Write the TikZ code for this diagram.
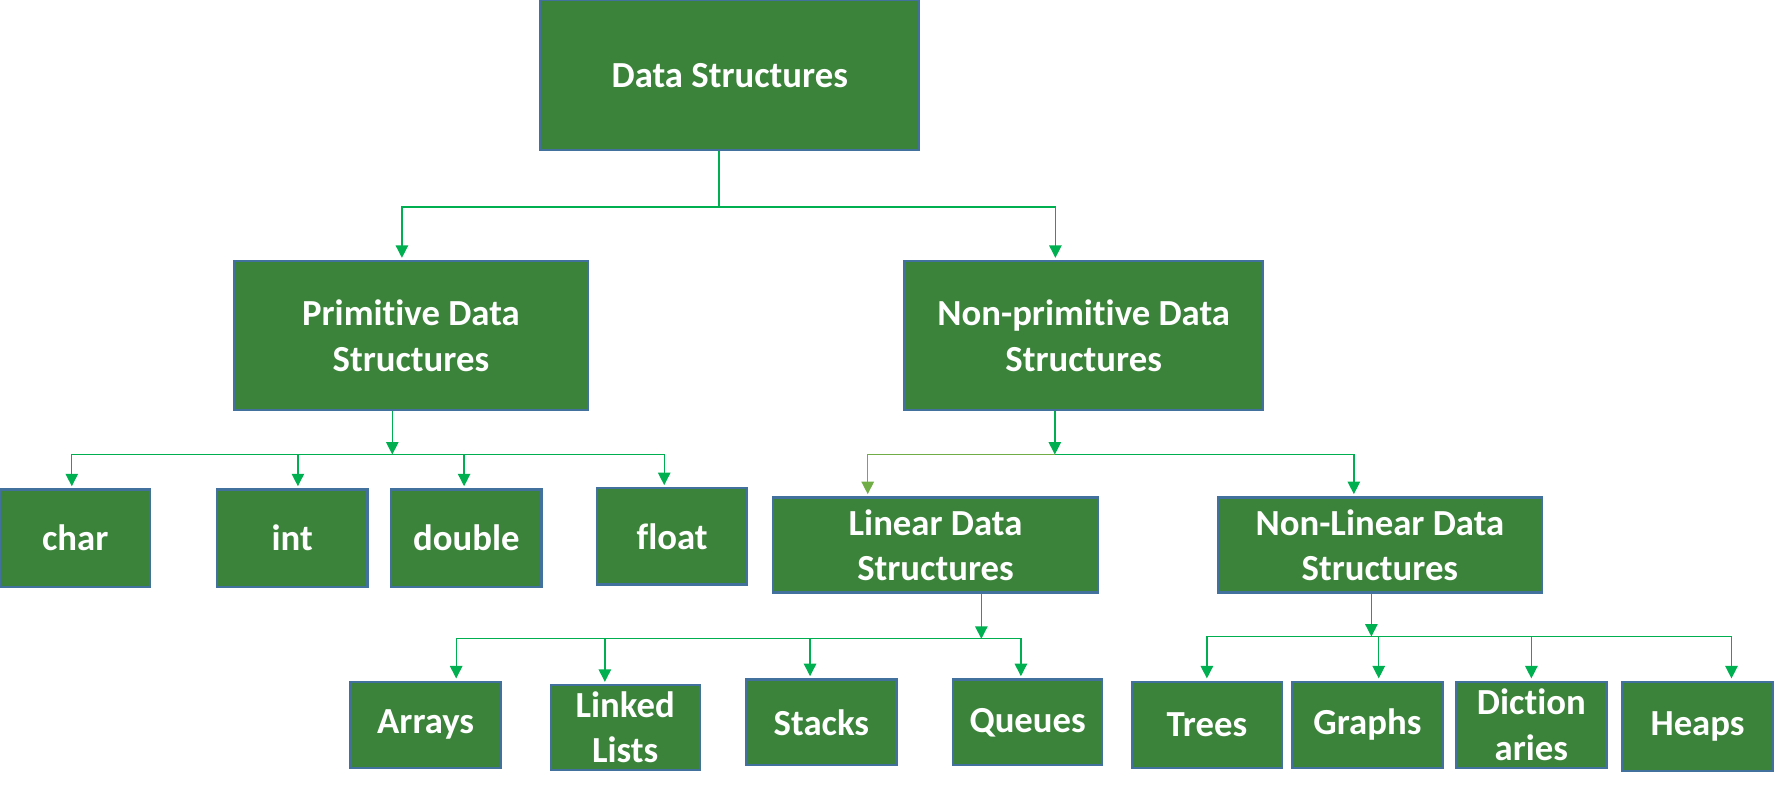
\documentclass[tikz,border=0pt]{standalone}
\usepackage{fontspec}
\setmainfont[Ligatures=NoCommon]{Carlito}
\usetikzlibrary{arrows.meta}
\definecolor{boxgreen}{HTML}{3B833A}
\definecolor{boxedge}{HTML}{41719C}
\definecolor{linkgreen}{HTML}{00B050}
\definecolor{linkolive}{HTML}{70AD47}

\begin{document}
\begin{tikzpicture}
[x=1pt,y=-1pt,
ds/.style={rectangle,draw=boxedge,fill=boxgreen,text=white,line width=1.9pt,inner sep=0pt,
  align=center,font=\fontsize{32.5}{40}\selectfont\bfseries},
bus/.style={draw=linkgreen,line width=1.2pt},
link/.style={bus,shorten >=2pt,-{Triangle[width=11pt,length=11pt]}}]
\useasboundingbox (0,0) rectangle (1570,704);
% top
\node[ds,minimum width=335,minimum height=133] (ds) at (645.5,66.5) {Data Structures};
% second level
\node[ds,minimum width=313,minimum height=132] (prim) at (363.5,297) {Primitive Data\\Structures};
\node[ds,minimum width=317,minimum height=132] (np) at (958.5,297) {Non-primitive Data\\Structures};
% primitive types
\node[ds,minimum width=133,minimum height=86] (char) at (66.5,476) {char};
\node[ds,minimum width=133,minimum height=86] (int) at (258.5,476) {int};
\node[ds,minimum width=133,minimum height=86] (double) at (412.5,476) {double};
\node[ds,minimum width=133,minimum height=85] (float) at (594.5,474.5) {float};
% linear / non-linear
\node[ds,minimum width=287,minimum height=84] (lin) at (827.5,482) {Linear Data\\Structures};
\node[ds,minimum width=287,minimum height=84] (nonlin) at (1220.5,482) {Non-Linear Data\\Structures};
% leaves
\node[ds,minimum width=133,minimum height=76] (arrays) at (376.5,641) {Arrays};
\node[ds,minimum width=132,minimum height=75] (linked) at (553,643.5) {Linked\\Lists};
\node[ds,minimum width=133,minimum height=76] (stacks) at (726.5,639) {Stacks};
\node[ds,minimum width=132,minimum height=76] (queues) at (909,639) {Queues};
\node[ds,minimum width=133,minimum height=76] (trees) at (1067.5,641) {Trees};
\node[ds,minimum width=133,minimum height=76] (graphs) at (1209.5,641) {Graphs};
\node[ds,minimum width=133,minimum height=76] (dict) at (1354.5,641) {Diction\\aries};
\node[ds,minimum width=133,minimum height=79] (heaps) at (1501.5,642.5) {Heaps};

% junction points on the buses
\coordinate (j1) at (636,183);
\coordinate (j2) at (347,402);
\coordinate (j3) at (933,402);
\coordinate (j4) at (868,565);
\coordinate (j5) at (1213,563);

\draw[bus] (ds.south -| j1) -- (j1);
\draw[link] (j1) -| ([xshift=-8pt]prim.north);
\draw[link] (j1) -| ([xshift=-25pt]np.north);

\draw[link,shorten >=0pt] (prim.south -| j2) -- (j2);
\draw[link] (j2) -| ([xshift=-3pt]char.north);
\draw[link] (j2) -| ([xshift=5pt]int.north);
\draw[link] (j2) -| ([xshift=-2pt]double.north);
\draw[link] (j2) -| ([xshift=-7pt]float.north);

\draw[link,shorten >=0pt] (np.south -| j3) -- (j3);
\draw[link,draw=linkolive] (j3) -| ([xshift=-60pt]lin.north);
\draw[link] (j3) -| ([xshift=-23pt]nonlin.north);

\draw[link,shorten >=0pt] (lin.south -| j4) -- (j4);
\draw[link] (j4) -| ([xshift=27pt]arrays.north);
\draw[link] (j4) -| ([xshift=-18pt]linked.north);
\draw[link] (j4) -| ([xshift=-10pt]stacks.north);
\draw[link] (j4) -| ([xshift=-6pt]queues.north);

\draw[link,shorten >=0pt] (nonlin.south -| j5) -- (j5);
\draw[link] (j5) -| (trees.north);
\draw[link] (j5) -| ([xshift=10pt]graphs.north);
\draw[link] (j5) -| (dict.north);
\draw[link] (j5) -| ([xshift=30pt]heaps.north);
\end{tikzpicture}
\end{document}
